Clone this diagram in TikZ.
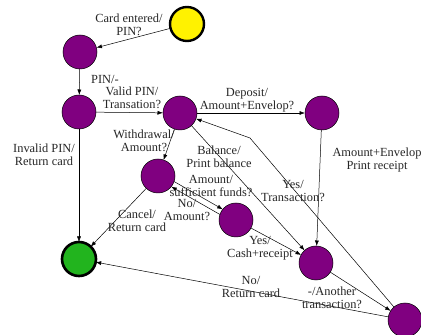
\documentclass[tikz,border=0pt]{standalone}
\usepackage{fontspec}
\setmainfont{Liberation Serif}
\usetikzlibrary{arrows.meta}
\definecolor{stpurple}{RGB}{128,0,128}
\definecolor{styellow}{RGB}{255,242,0}
\definecolor{stgreen}{RGB}{34,180,30}
\tikzset{
  st/.style={circle,draw=black,line width=0.5pt,fill=stpurple,minimum size=34pt,inner sep=0pt,outer sep=0pt},
  ststart/.style={circle,draw=black,line width=2.4pt,fill=styellow,minimum size=34pt,inner sep=0pt,outer sep=0pt},
  stend/.style={circle,draw=black,line width=2.6pt,fill=stgreen,minimum size=34pt,inner sep=0pt,outer sep=0pt},
  lbl/.style={align=center,inner sep=0pt,font=\fontsize{12.4}{12.6}\selectfont,text=black!85},
  arr/.style={-{Latex[length=5.5pt,width=4pt]},line width=0.5pt,black}
}
\begin{document}
\begin{tikzpicture}[x=1pt,y=1pt]
\useasboundingbox (0,0) rectangle (421,335);
% states
\node[ststart] (Y) at (187,311) {};
\node[st] (A) at (80,283) {};
\node[st] (B) at (79,223) {};
\node[st] (C) at (180,222) {};
\node[st] (D) at (322,222) {};
\node[st] (E) at (158,159) {};
\node[stend] (Gr) at (79,76) {};
\node[st] (F) at (236,115) {};
\node[st] (G) at (316,72) {};
\node[st] (H) at (405,15) {};
\coordinate (bend) at (250,197);
% transitions
\draw[arr] (Y) -- (A);
\draw[arr] (A) -- (B);
\draw[arr] (B) -- (C);
\draw[arr] (B) -- (Gr);
\draw[arr] (C) -- (D);
\draw[arr] (C) -- (E);
\draw[arr] (C) -- (G);
\draw[arr] (D) -- (G);
\draw[arr] (E.-19) -- (F.141);
\draw[arr] (F.161) -- (E.-39);
\draw[arr] (E) -- (Gr);
\draw[arr] (F) -- (G);
\draw[arr] (G) -- (H);
\draw[arr] (H) -- (bend) -- (C);
\draw[arr] (H) -- (Gr);
% labels
\node[lbl] (l1) at (129,310) {Card entered/\\PIN?};
\node[lbl] (l2) at (105,256) {PIN/-};
\node[lbl] (l3) at (132,237) {Valid PIN/\\Transation?};
\node[lbl] (l4) at (247,235) {Deposit/\\Amount+Envelop?};
\node[lbl] (l5) at (144,194) {Withdrawal/\\Amount?};
\node[lbl] (l6) at (44,180) {Invalid PIN/\\Return card};
\node[lbl] (l7) at (219,178) {Balance/\\Print balance};
\node[lbl] (l8) at (377,175) {Amount+Envelop\\Print receipt};
\node[lbl] (l9) at (211,149) {Amount/\\sufficient funds?};
\node[lbl] (l10) at (187,125) {No/\\Amount?};
\node[lbl] (l11) at (137,114) {Cancel/\\Return card};
\node[lbl] (l12) at (293,144) {Yes/\\Transaction?};
\node[lbl] (l13) at (260,87) {Yes/\\Cash+receipt};
\node[lbl] (l14) at (251,48) {No/\\Return card};
\node[lbl] (l15) at (332,37) {-/Another\\transaction?};
\end{tikzpicture}
\end{document}
